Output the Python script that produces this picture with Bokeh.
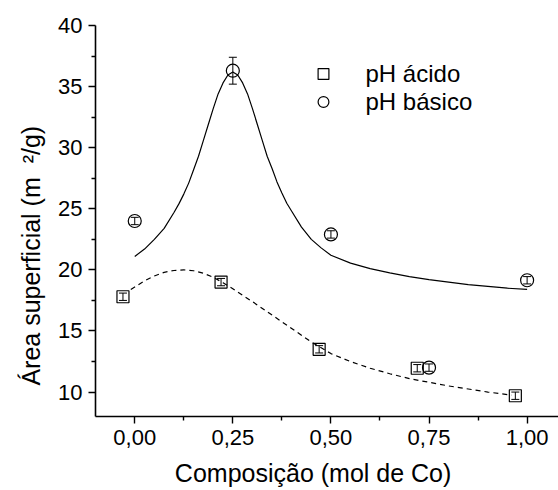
from bokeh.plotting import figure
from bokeh.models import (ColumnDataSource, Whisker, TeeHead, Legend, LegendItem,
                          FixedTicker, CustomJSTickFormatter, Range1d)
from bokeh.embed import file_html
from bokeh.resources import INLINE

# ---- data ----
acid_x = [-0.03, 0.22, 0.47, 0.72, 0.97]
acid_y = [17.8, 19.0, 13.5, 11.95, 9.7]
acid_err = [0.3, 0.3, 0.3, 0.3, 0.3]

basic_x = [0.0, 0.25, 0.50, 0.75, 1.00]
basic_y = [24.0, 36.3, 22.9, 12.0, 19.15]
basic_err = [0.3, 1.1, 0.3, 0.3, 0.3]

# fitted curves
fit_basic_x = [0.0, 0.025, 0.05, 0.075, 0.10, 0.1125, 0.125, 0.1375, 0.15, 0.1625, 0.175,
               0.1875, 0.20, 0.2125, 0.225, 0.2375, 0.25, 0.2625, 0.275, 0.2875, 0.30,
               0.3125, 0.325, 0.3375, 0.35, 0.3625, 0.375, 0.3875, 0.40, 0.425, 0.45,
               0.475, 0.50, 0.55, 0.60, 0.65, 0.70, 0.75, 0.80, 0.85, 0.90, 0.95, 1.00]
fit_basic_y = [21.1, 21.7, 22.5, 23.4, 24.7, 25.4, 26.2, 27.1, 28.2, 29.3, 30.6,
               31.9, 33.2, 34.4, 35.3, 35.95, 36.2, 35.95, 35.3, 34.4, 33.2,
               31.9, 30.6, 29.3, 28.3, 27.2, 26.3, 25.45, 24.8, 23.5, 22.5,
               21.8, 21.2, 20.55, 20.1, 19.75, 19.45, 19.2, 19.0, 18.8, 18.65, 18.5, 18.4]

fit_acid_x = [-0.01, 0.0, 0.025, 0.05, 0.075, 0.10, 0.125, 0.15, 0.175, 0.20, 0.225,
              0.25, 0.30, 0.35, 0.40, 0.45, 0.50, 0.55, 0.60, 0.65, 0.70, 0.75, 0.80,
              0.85, 0.90, 0.96]
fit_acid_y = [18.4, 18.6, 19.1, 19.5, 19.8, 19.95, 20.0, 19.93, 19.72, 19.4, 18.95,
              18.45, 17.4, 16.3, 15.2, 14.1, 13.15, 12.5, 11.95, 11.5, 11.1, 10.8, 10.5,
              10.25, 10.0, 9.75]

x_ticks = [0.0, 0.25, 0.50, 0.75, 1.00]
x_minor = [0.125, 0.375, 0.625, 0.875]
y_ticks = [10, 15, 20, 25, 30, 35, 40]
y_minor = [12.5, 17.5, 22.5, 27.5, 32.5, 37.5]

x_title = "Composição (mol de Co)"
y_title = "Área superficial (m\u00a0\u00a0\u00b2/g)"

FONT = "Liberation Sans"
NB = "\u00a0"

p = figure(width=558, height=490, x_range=Range1d(-0.1, 1.08), y_range=Range1d(8, 40),
           output_backend="svg", toolbar_location=None,
           min_border_left=95, min_border_right=0, min_border_top=25, min_border_bottom=74)
p.xgrid.visible = False
p.ygrid.visible = False
p.outline_line_color = None
p.background_fill_color = "white"
p.border_fill_color = "white"

for ax, tk, mn in ((p.xaxis[0], x_ticks, x_minor), (p.yaxis[0], y_ticks, y_minor)):
    ax.ticker = FixedTicker(ticks=tk, minor_ticks=mn)
    ax.axis_line_width = 1.6
    ax.axis_line_color = "black"
    ax.major_tick_line_width = 1.4
    ax.minor_tick_line_width = 1.4
    ax.major_tick_line_color = "black"
    ax.minor_tick_line_color = "black"
    ax.major_tick_in = 0
    ax.major_tick_out = 7
    ax.minor_tick_in = 0
    ax.minor_tick_out = 4
    ax.major_label_text_font = FONT
    ax.major_label_text_font_size = "22px"
    ax.major_label_text_color = "black"
    ax.major_label_standoff = 6
    ax.axis_label_text_font = FONT
    ax.axis_label_text_font_size = "25px"
    ax.axis_label_text_font_style = "normal"
    ax.axis_label_text_color = "black"

p.xaxis[0].formatter = CustomJSTickFormatter(code="return tick.toFixed(2).replace('.', ',');")
# trailing no-break spaces shift the centred titles to where the reference has them
p.xaxis[0].axis_label = x_title + NB * 4
p.xaxis[0].axis_label_standoff = 11
p.yaxis[0].axis_label = y_title + NB * 10
p.yaxis[0].axis_label_standoff = 10

# curves
p.line(fit_basic_x, fit_basic_y, line_color="black", line_width=1.2)
p.line(fit_acid_x, fit_acid_y, line_color="black", line_width=1.2, line_dash="5 4")

# error bars
src_a = ColumnDataSource(dict(x=acid_x, y=acid_y,
                              lo=[v - e for v, e in zip(acid_y, acid_err)],
                              hi=[v + e for v, e in zip(acid_y, acid_err)]))
src_b = ColumnDataSource(dict(x=basic_x, y=basic_y,
                              lo=[v - e for v, e in zip(basic_y, basic_err)],
                              hi=[v + e for v, e in zip(basic_y, basic_err)]))
for src in (src_a, src_b):
    w = Whisker(source=src, base="x", lower="lo", upper="hi", dimension="height",
                line_color="black", line_width=1,
                upper_head=TeeHead(size=8, line_color="black", line_width=1),
                lower_head=TeeHead(size=8, line_color="black", line_width=1))
    p.add_layout(w)

r_sq = p.scatter("x", "y", source=src_a, marker="square", size=12, fill_alpha=0,
                 line_color="black", line_width=1.2)
r_ci = p.scatter("x", "y", source=src_b, marker="circle", size=13, fill_alpha=0,
                 line_color="black", line_width=1.2)

legend = Legend(items=[LegendItem(label="pH ácido", renderers=[r_sq]),
                       LegendItem(label="pH básico", renderers=[r_ci])],
                location=(212.5, 300.5), border_line_color=None, background_fill_alpha=0,
                label_text_font=FONT, label_text_font_size="24px", label_text_color="black",
                glyph_width=30, glyph_height=27, label_height=27, label_standoff=28,
                spacing=0, padding=0, margin=0)
p.add_layout(legend)

open("out.html", "w").write(file_html(p, INLINE))
